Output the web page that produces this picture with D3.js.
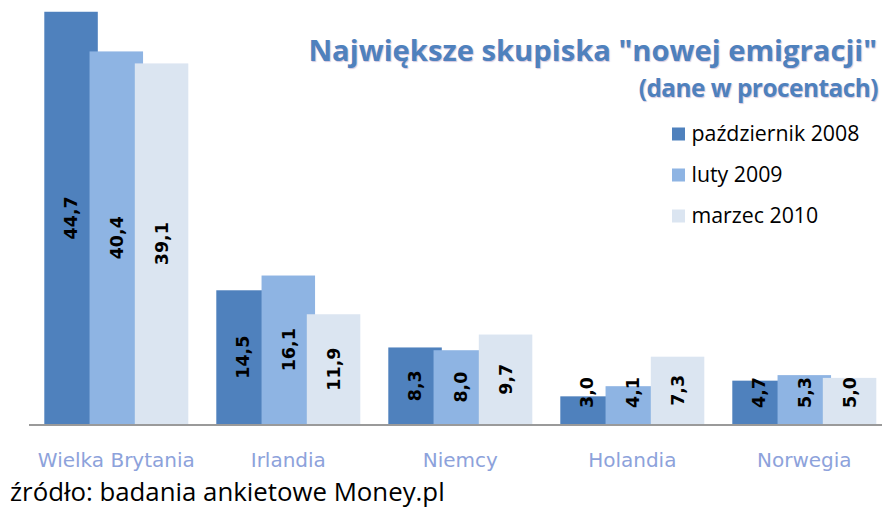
<!DOCTYPE html>
<html>
<head>
<meta charset="utf-8">
<script src="https://cdn.jsdelivr.net/npm/d3@7"></script>
<style>
  html, body { margin: 0; padding: 0; background: #fff; }
  svg { display: block; }
</style>
</head>
<body>
<svg id="chart" width="882" height="508"></svg>
<script>
const categories = ["Wielka Brytania", "Irlandia", "Niemcy", "Holandia", "Norwegia"];
const seriesNames = ["październik 2008", "luty 2009", "marzec 2010"];
const october2008 = [44.7, 14.5, 8.3, 3.0, 4.7];
const february2009 = [40.4, 16.1, 8.0, 4.1, 5.3];
const march2010 = [39.1, 11.9, 9.7, 7.3, 5.0];
const titleText = "Największe skupiska \"nowej emigracji\"";
const subtitleText = "(dane w procentach)";
const sourceText = "źródło: badania ankietowe Money.pl";

const seriesValues = [october2008, february2009, march2010];
const colors = ["#4F81BD", "#8EB4E3", "#DBE5F1"];

const svg = d3.select("#chart");

// set font-size so the text spans the given width
function fitWidth(sel, target) {
  const fs = +sel.attr("font-size");
  const w = sel.node().getComputedTextLength();
  sel.attr("font-size", fs * target / w);
  return fs * target / w;
}

const x = d3.scaleBand()
  .domain(categories)
  .range([30.3, 890.3])
  .paddingInner(28 / 172)
  .paddingOuter(14 / 172);

const barW = 53.5;
const xs = d3.scalePoint().domain(seriesNames).range([0, x.bandwidth() - barW]);

const y = d3.scaleLinear().domain([0, 45]).range([424, 9]);

const locale = d3.formatLocale({ decimal: ",", thousands: " ", grouping: [3], currency: ["", " zł"] });
const fmt = locale.format(".1f");

// axis line
svg.append("line")
  .attr("x1", 29).attr("x2", 882)
  .attr("y1", y(0) + 1).attr("y2", y(0) + 1)
  .attr("stroke", "#9a9a9a").attr("stroke-width", 2);

// bars
seriesNames.forEach((s, si) => {
  const g = svg.append("g");
  g.selectAll("rect")
    .data(categories.map((c, ci) => ({ c, v: seriesValues[si][ci] })))
    .join("rect")
    .attr("x", d => x(d.c) + xs(s))
    .attr("y", d => y(d.v))
    .attr("width", barW)
    .attr("height", d => y(0) - y(d.v))
    .attr("fill", colors[si]);
});

// value labels
seriesNames.forEach((s, si) => {
  categories.forEach((c, ci) => {
    const v = seriesValues[si][ci];
    const cx = x(c) + xs(s) + barW / 2;
    const t = svg.append("text")
      .attr("font-family", "DejaVu Sans, Verdana, sans-serif")
      .attr("font-weight", "bold")
      .attr("font-size", 17.5)
      .attr("fill", "#000")
      .attr("text-anchor", "middle")
      .attr("dy", "0.36em")
      .text(fmt(v));
    const half = t.node().getComputedTextLength() / 2;
    let cy = (y(v) + y(0)) / 2;
    cy = Math.min(cy, y(0) - 16 - half);
    t.attr("transform", `translate(${cx},${cy}) rotate(-90)`);
  });
});

// category labels
svg.append("g").selectAll("text")
  .data(categories)
  .join("text")
  .attr("x", d => x(d) + x.bandwidth() / 2)
  .attr("y", 467)
  .attr("text-anchor", "middle")
  .attr("font-family", "DejaVu Sans, Verdana, sans-serif")
  .attr("font-size", 20)
  .attr("fill", "#8DA2DB")
  .text(d => d);

// title
const title = svg.append("text")
  .attr("x", 877).attr("y", 61)
  .attr("text-anchor", "end")
  .attr("font-family", "Open Sans, sans-serif")
  .attr("font-weight", "bold")
  .attr("font-size", 28)
  .attr("fill", "#4F81BD")
  .style("text-shadow", "1px 1px 1px rgba(180,160,200,0.6)")
  .text(titleText);
fitWidth(title, 569);

const subtitle = svg.append("text")
  .attr("x", 878).attr("y", 97)
  .attr("text-anchor", "end")
  .attr("font-family", "Open Sans, sans-serif")
  .attr("font-weight", "bold")
  .attr("font-size", 21)
  .attr("letter-spacing", -0.5)
  .attr("fill", "#4F81BD")
  .style("text-shadow", "1px 1px 1px rgba(180,160,200,0.6)")
  .text(subtitleText);
fitWidth(subtitle, 238);

// legend
const legend = svg.append("g");
let legendFs = null;
seriesNames.forEach((s, i) => {
  const by = 141 + i * 41;
  legend.append("rect")
    .attr("x", 672).attr("y", by - 13.5)
    .attr("width", 13).attr("height", 13)
    .attr("fill", colors[i]);
  const t = legend.append("text")
    .attr("x", 691.5).attr("y", by)
    .attr("font-family", "Open Sans, sans-serif")
    .attr("font-size", 20)
    .attr("fill", "#000")
    .text(s);
  if (i === 0) legendFs = fitWidth(t, 168);
  else t.attr("font-size", legendFs);
});

// source
const source = svg.append("text")
  .attr("x", 10).attr("y", 501)
  .attr("font-family", "Open Sans, sans-serif")
  .attr("font-size", 24)
  .attr("fill", "#000")
  .text(sourceText);
fitWidth(source, 435);
</script>
</body>
</html>
